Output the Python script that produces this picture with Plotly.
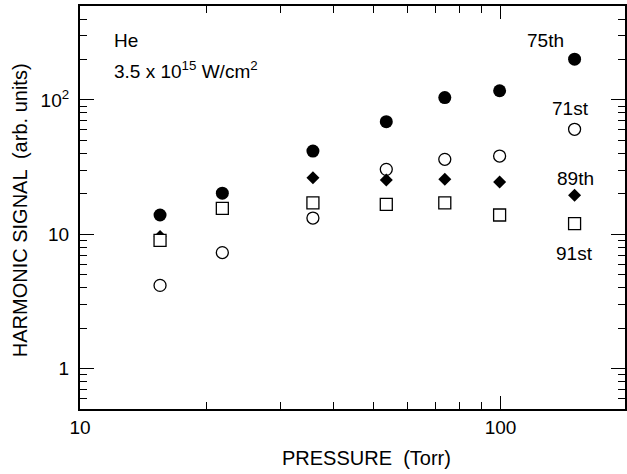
import math
import plotly.graph_objects as go

# ---- data ----
pressure = [15.5, 21.8, 35.8, 53.5, 73.7, 99.5, 150]
h75 = [13.9, 20.2, 41.6, 68.9, 104, 117, 201]
h71 = [4.16, 7.3, 13.2, 30.4, 36.1, 38.2, 60.4]
h89 = [9.6, None, 26.3, 25.3, 25.7, 24.5, 19.5]
h91 = [9.0, 15.6, 17.1, 16.7, 17.1, 13.9, 12.0]

x_major = [10, 100]
x_major_text = ["10", "100"]
x_minor = [20, 30, 40, 50, 60, 70, 80, 90]
y_major = [1, 10, 100]
y_major_text = ["1\u00a0", "10\u00a0", "10<sup>2</sup>\u00a0"]
y_minor = [0.6, 0.7, 0.8, 0.9, 2, 3, 4, 5, 6, 7, 8, 9,
           20, 30, 40, 50, 60, 70, 80, 90, 200, 300, 400]

FONT = "Liberation Sans, Arial, Helvetica, sans-serif"
X_RANGE = [1, 2.296]
Y_RANGE = [math.log10(0.5), math.log10(500)]

fig = go.Figure()
# draw order: open circles, diamonds, open squares, filled circles
fig.add_trace(go.Scatter(x=pressure, y=h71, mode="markers", name="71st",
                         marker=dict(symbol="circle", size=12, color="white",
                                     line=dict(color="black", width=1.3))))
fig.add_trace(go.Scatter(x=pressure, y=h89, mode="markers", name="89th",
                         marker=dict(symbol="diamond", size=10, color="black",
                                     line=dict(width=0))))
fig.add_trace(go.Scatter(x=pressure, y=h91, mode="markers", name="91st",
                         marker=dict(symbol="square", size=12, color="white",
                                     line=dict(color="black", width=1.3))))
fig.add_trace(go.Scatter(x=pressure, y=h75, mode="markers", name="75th",
                         marker=dict(symbol="circle", size=13, color="black",
                                     line=dict(width=0))))

tickfont = dict(family=FONT, size=19, color="black")

fig.update_layout(
    xaxis=dict(type="log", range=X_RANGE, showgrid=False, zeroline=False,
               showline=True, linecolor="black", linewidth=1.5,
               mirror="allticks", ticks="inside", tickcolor="black",
               tickwidth=1.3, ticklen=13, tickmode="array",
               tickvals=x_major, ticktext=x_major_text, tickfont=tickfont,
               minor=dict(tickmode="array", tickvals=x_minor, ticks="inside",
                          ticklen=7, tickcolor="black", tickwidth=1.3)),
    yaxis=dict(type="log", range=Y_RANGE, showgrid=False, zeroline=False,
               showline=True, linecolor="black", linewidth=1.5,
               mirror="allticks", ticks="inside", tickcolor="black",
               tickwidth=1.3, ticklen=14, tickmode="array",
               tickvals=y_major, ticktext=y_major_text, tickfont=tickfont,
               minor=dict(tickmode="array", tickvals=y_minor, ticks="inside",
                          ticklen=7, tickcolor="black", tickwidth=1.3)),
)

W, H = 627, 474
L, R, T, B = 80, 0, 6, 65
pw, ph = W - L - R, H - T - B


def px(xp):
    return (xp - L) / pw


def py(yp):
    return (H - B - yp) / ph


def ann(text, xp, yp, xanchor="center", size=19, angle=0):
    return dict(text=text, x=px(xp), y=py(yp), xref="paper", yref="paper",
                xanchor=xanchor, yanchor="middle", showarrow=False,
                textangle=angle, font=dict(family=FONT, size=size, color="black"))


annotations = [
    ann("75th", 547, 40),
    ann("71st", 572, 109),
    ann("89th", 577, 178),
    ann("91st", 576, 253),
    ann("He", 112, 40, xanchor="left"),
    ann("3.5 x 10<sup>15</sup> W/cm<sup>2</sup>", 112, 70, xanchor="left"),
    ann("PRESSURE  (Torr)", 368, 458, size=20),
    ann("HARMONIC SIGNAL  (arb. units)", 20, 210, size=20, angle=-90),
]

fig.update_layout(width=W, height=H, margin=dict(l=L, r=R, t=T, b=B),
                  paper_bgcolor="white", plot_bgcolor="white",
                  showlegend=False, annotations=annotations,
                  font=dict(family=FONT, color="black"))

fig.write_html("out.html")
